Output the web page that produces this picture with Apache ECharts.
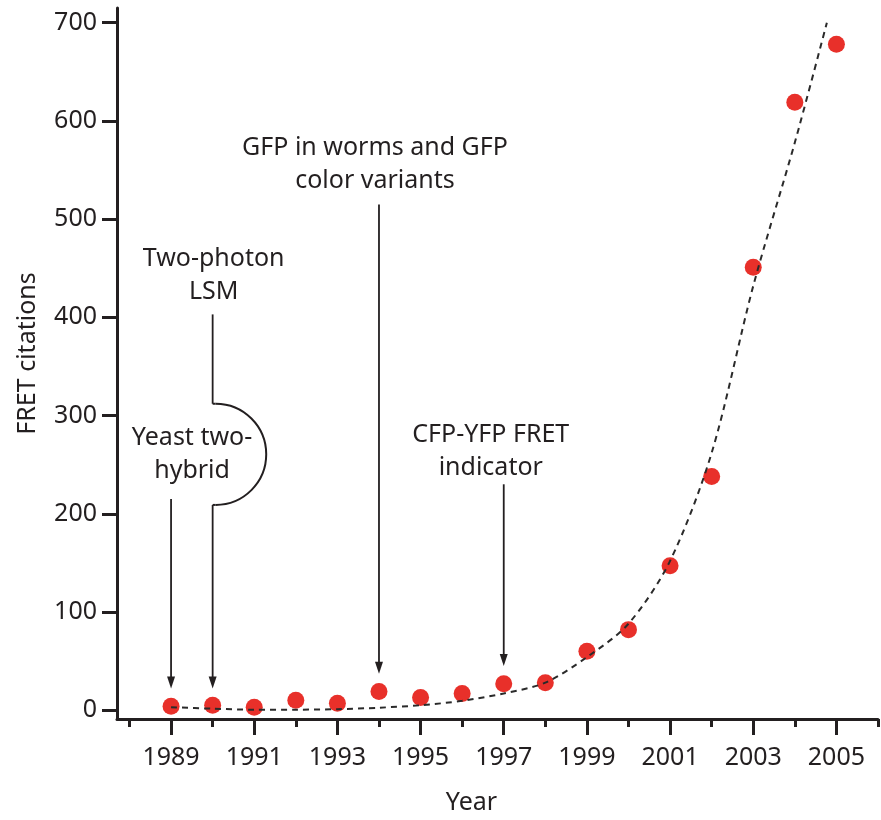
<!DOCTYPE html>
<html>
<head>
<meta charset="utf-8">
<script src="https://cdn.jsdelivr.net/npm/echarts@6/dist/echarts.min.js"></script>
<style>
  html, body { margin: 0; padding: 0; background: #fff; }
  #chart { width: 881px; height: 820px; }
</style>
</head>
<body>
<div id="chart"></div>
<script>
// data
const years = [1989, 1990, 1991, 1992, 1993, 1994, 1995, 1996, 1997, 1998, 1999, 2000, 2001, 2002, 2003, 2004, 2005]
const citations = [4, 5, 3, 10, 7, 19, 13, 17, 27, 28, 60, 82, 147, 238, 451, 619, 678]

// dashed trend curve
const fitYears = [1989, 1990, 1991, 1992, 1993, 1994, 1995, 1996, 1997, 1998, 1999, 2000, 2001, 2002, 2003, 2004, 2004.77]
const fitValues = [3, 1.5, 0.5, 0.5, 1, 2.5, 5, 9.5, 17, 28, 54, 88, 152, 262, 432, 578, 700]

const yTicks = [0, 100, 200, 300, 400, 500, 600, 700]
const xTickYears = [1988, 1989, 1990, 1991, 1992, 1993, 1994, 1995, 1996, 1997, 1998, 1999, 2000, 2001, 2002, 2003, 2004, 2005, 2006]
const xLabelYears = [1989, 1991, 1993, 1995, 1997, 1999, 2001, 2003, 2005]

const FONT = '"Noto Sans", "Open Sans", sans-serif'
const INK = '#231f20'

const chart = echarts.init(document.getElementById('chart'))

const axisX = {
  type: 'value',
  position: 'bottom',
  min: 1987.7,
  max: 2006,
  splitLine: { show: false }
}

chart.setOption({
  animation: false,
  grid: { left: 117, right: 3, top: 8, bottom: 97 },
  xAxis: [
    {
      ...axisX,
      axisLine: { onZero: false, lineStyle: { color: INK, width: 3 } },
      axisTick: { customValues: xTickYears, length: 8, lineStyle: { color: INK, width: 3 } },
      axisLabel: { show: false }
    },
    {
      ...axisX,
      axisLine: { show: false, onZero: false },
      axisTick: { customValues: xLabelYears, length: 16, lineStyle: { color: INK, width: 3 } },
      axisLabel: {
        customValues: xLabelYears,
        margin: 26,
        color: INK,
        fontSize: 25,
        fontFamily: FONT,
        formatter: v => String(v)
      },
      name: 'Year',
      nameLocation: 'middle',
      nameGap: 71,
      nameTextStyle: { color: INK, fontSize: 25, fontFamily: FONT, padding: [0, 52, 0, 0] }
    }
  ],
  yAxis: {
    type: 'value',
    min: -9,
    max: 715,
    splitLine: { show: false },
    axisLine: { show: true, onZero: false, lineStyle: { color: INK, width: 3 } },
    axisTick: { customValues: yTicks, length: 15, lineStyle: { color: INK, width: 3 } },
    axisLabel: {
      customValues: yTicks,
      margin: 20,
      color: INK,
      fontSize: 25,
      fontFamily: FONT
    },
    name: 'FRET citations',
    nameLocation: 'middle',
    nameGap: 77,
    nameTextStyle: { color: INK, fontSize: 25, fontFamily: FONT, padding: [0, 0, 0, 20] }
  },
  series: [
    {
      type: 'scatter',
      xAxisIndex: 0,
      data: years.map((y, i) => [y, citations[i]]),
      symbolSize: 17,
      itemStyle: { color: '#e8302a', opacity: 1 },
      z: 2
    },
    {
      type: 'line',
      xAxisIndex: 0,
      data: fitYears.map((y, i) => [y, fitValues[i]]),
      smooth: 0.3,
      showSymbol: false,
      lineStyle: { color: '#2a2a2a', width: 2, type: [6, 5] },
      z: 3
    }
  ]
})

// annotations: text + arrows anchored to the axes
const X = v => chart.convertToPixel({ xAxisIndex: 0 }, v)
const Y = v => chart.convertToPixel({ yAxisIndex: 0 }, v)

const textEl = (x, y, text) => ({
  type: 'text',
  x: x,
  y: y,
  style: {
    text: text,
    fill: INK,
    font: '25px ' + FONT,
    align: 'center',
    verticalAlign: 'middle',
    lineHeight: 33
  }
})

const arrow = (x, yTop, yTip) => [
  {
    type: 'line',
    shape: { x1: x, y1: yTop, x2: x, y2: yTip - 8 },
    style: { stroke: INK, lineWidth: 1.8 }
  },
  {
    type: 'polygon',
    shape: { points: [[x - 4, yTip - 12], [x + 4, yTip - 12], [x, yTip]] },
    style: { fill: INK }
  }
]

const x89 = X(1989), x90 = X(1990), x94 = X(1994), x97 = X(1997)
const bracketTop = Y(312)
const bracketBot = Y(209)
const bracketR = (bracketBot - bracketTop) / 2

const elements = [
  textEl(x94 - 4, Y(556), 'GFP in worms and GFP\ncolor variants'),
  ...arrow(x94, Y(515), Y(37)),

  textEl(x90 + 1, Y(443), 'Two-photon\nLSM'),
  {
    type: 'line',
    shape: { x1: x90, y1: Y(403), x2: x90, y2: bracketTop },
    style: { stroke: INK, lineWidth: 1.8 }
  },
  {
    type: 'arc',
    shape: {
      cx: x90 + 3,
      cy: bracketTop + bracketR,
      r: bracketR,
      startAngle: -Math.PI / 2,
      endAngle: Math.PI / 2,
      clockwise: true
    },
    style: { stroke: INK, lineWidth: 2, fill: 'none' }
  },
  {
    type: 'line',
    shape: { x1: x90, y1: bracketTop, x2: x90 + 3, y2: bracketTop },
    style: { stroke: INK, lineWidth: 2 }
  },
  {
    type: 'line',
    shape: { x1: x90, y1: bracketBot, x2: x90 + 3, y2: bracketBot },
    style: { stroke: INK, lineWidth: 2 }
  },
  ...arrow(x90, bracketBot, Y(22)),

  textEl(x89 + 21, Y(260), 'Yeast two-\nhybrid'),
  ...arrow(x89, Y(215), Y(22)),

  textEl(x97 - 13, Y(264), 'CFP-YFP FRET\nindicator'),
  ...arrow(x97, Y(230), Y(45))
]

chart.setOption({ graphic: { elements: elements } })
</script>
</body>
</html>
